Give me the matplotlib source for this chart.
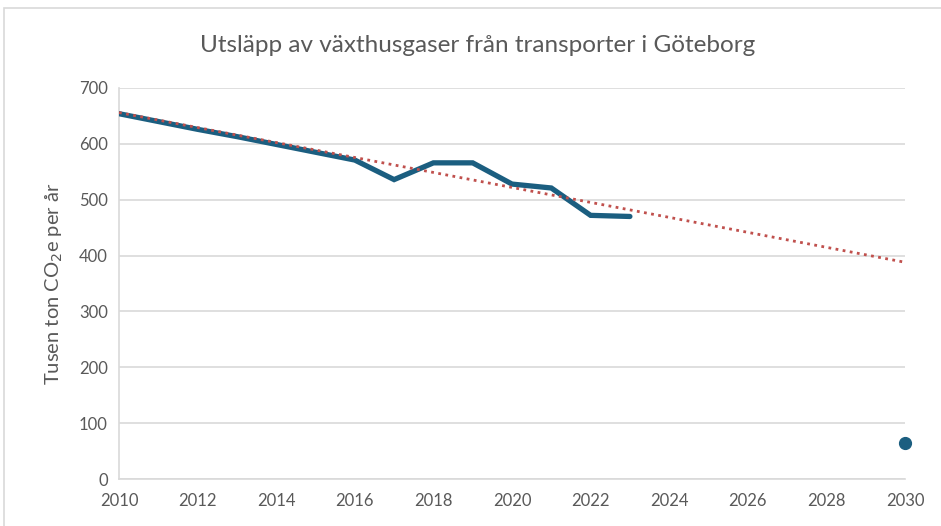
import numpy as np
import matplotlib
matplotlib.use("Agg")
import matplotlib.pyplot as plt
from matplotlib.patches import Rectangle

plt.rcParams["font.family"] = ["Lato", "DejaVu Sans"]

# Data
years = [2010, 2011, 2012, 2013, 2014, 2015, 2016, 2017, 2018, 2019, 2020, 2021, 2022, 2023]
emissions = [654, 640, 626, 613, 599, 585, 571, 536, 566, 566, 528, 521, 472, 470]
trend_years = [2010, 2030]
trend_values = [656, 388]
target_year = [2030]
target_value = [65]

blue = "#1b5e80"
red = "#c0504d"
grey_text = "#595959"
grid_col = "#d9d9d9"

fig = plt.figure(figsize=(9.41, 5.26), dpi=100)

# Chart border like the office chart frame
fig.patches.append(Rectangle((4 / 941, -0.1), 1.2, (526 - 8) / 526 + 0.1,
                             transform=fig.transFigure, fill=False,
                             edgecolor="#d9d9d9", linewidth=1.2))

ax = fig.add_axes([119 / 941, (526 - 479) / 526, (905 - 119) / 941, (479 - 88) / 526])

ax.plot(years, emissions, color=blue, linewidth=3.8, solid_joinstyle="miter",
        solid_capstyle="round", zorder=3)
ax.plot(trend_years, trend_values, color=red, linewidth=2.0, linestyle=(0, (1, 1.6)), zorder=4)
ax.plot(target_year, target_value, "o", color=blue, markersize=8.5, zorder=5, clip_on=False)

ax.set_xlim(2010, 2030)
ax.set_ylim(0, 700)
ax.set_xticks(np.arange(2010, 2031, 2))
ax.set_yticks(np.arange(0, 701, 100))
ax.yaxis.grid(True, color=grid_col, linewidth=1.2)
ax.set_axisbelow(True)

for s in ["top", "right"]:
    ax.spines[s].set_visible(False)
for s in ["left", "bottom"]:
    ax.spines[s].set_color(grid_col)
    ax.spines[s].set_linewidth(1.2)

ax.tick_params(axis="both", length=0, labelsize=12, colors=grey_text, pad=8)
ax.tick_params(axis="x", pad=10)

ax.set_ylabel("Tusen ton CO$_2$e per år", fontsize=14.5, color=grey_text, labelpad=10)
fig.text(478 / 941, 1 - 45 / 526, "Utsläpp av växthusgaser från transporter i Göteborg",
         ha="center", va="center", fontsize=17.5, color=grey_text)

fig.savefig("out.png", dpi=100)
